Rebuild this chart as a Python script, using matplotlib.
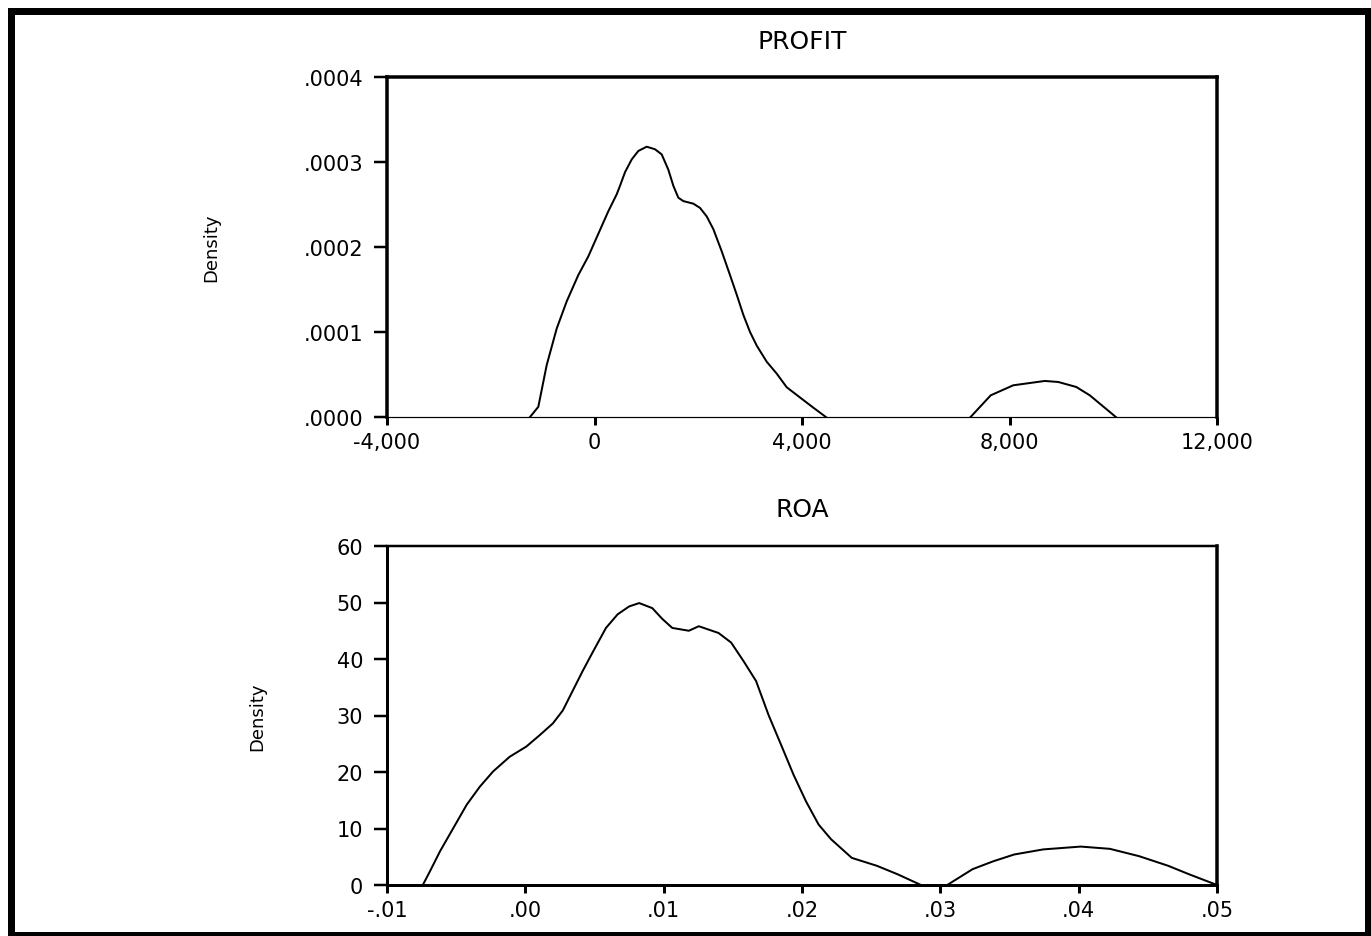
import numpy as np
import matplotlib.pyplot as plt
from matplotlib.patches import Rectangle
from matplotlib.ticker import FuncFormatter

# PROFIT kernel density, two pieces (density in units of 1e-4)
profit_x1 = [-1243, -1083, -922, -729, -536, -312, -119, 106, 266, 428, 492,
             588, 717, 845, 1006, 1166, 1295, 1423, 1520, 1616, 1713, 1905,
             2034, 2163, 2291, 2452, 2612, 2741, 2870, 2998, 3127, 3320,
             3513, 3705, 3961, 4218, 4460]
profit_y1 = [0.0, 0.12, 0.61, 1.04, 1.36, 1.67, 1.89, 2.20, 2.42, 2.62, 2.72,
             2.88, 3.03, 3.13, 3.18, 3.15, 3.09, 2.91, 2.72, 2.58, 2.54, 2.51,
             2.46, 2.36, 2.21, 1.95, 1.67, 1.44, 1.20, 1.00, 0.84, 0.65,
             0.51, 0.35, 0.23, 0.11, 0.0]
profit_x2 = [7250, 7638, 8072, 8680, 8940, 9288, 9548, 10050]
profit_y2 = [0.0, 0.255, 0.373, 0.424, 0.412, 0.353, 0.255, 0.0]

# ROA kernel density, two pieces
roa_x1 = [-0.00741, -0.00688, -0.00616, -0.0052, -0.00424, -0.00329, -0.00233,
          -0.00113, 0.00007, 0.00103, 0.00199, 0.00271, 0.00343, 0.00415,
          0.00487, 0.00583, 0.00667, 0.0075, 0.00823, 0.00918, 0.0099,
          0.01062, 0.01182, 0.01254, 0.01397, 0.01488, 0.01578, 0.01668,
          0.01758, 0.01849, 0.01939, 0.02029, 0.0212, 0.0221, 0.0236,
          0.02541, 0.02691, 0.0286]
roa_y1 = [0.0, 2.5, 6.0, 10.1, 14.2, 17.4, 20.1, 22.7, 24.5, 26.5, 28.6, 30.9,
          34.4, 37.9, 41.2, 45.5, 47.9, 49.3, 49.9, 49.0, 47.1, 45.5, 45.0,
          45.8, 44.6, 42.9, 39.6, 36.1, 30.1, 24.8, 19.5, 14.8, 10.7, 8.1,
          4.8, 3.4, 1.9, 0.0]
roa_x2 = [0.0305, 0.03233, 0.03383, 0.03534, 0.03744, 0.04015, 0.04226,
          0.04437, 0.04647, 0.04798, 0.05]
roa_y2 = [0.0, 2.8, 4.2, 5.4, 6.3, 6.8, 6.4, 5.1, 3.4, 1.9, 0.0]

profit_xticks = [-4000, 0, 4000, 8000, 12000]
profit_yticks = [0.0, 0.0001, 0.0002, 0.0003, 0.0004]
roa_xticks = [-0.01, 0.0, 0.01, 0.02, 0.03, 0.04, 0.05]
roa_yticks = [0, 10, 20, 30, 40, 50, 60]

plt.rcParams['font.family'] = ['DejaVu Sans']

W, H = 1371, 937
fig = plt.figure(figsize=(W / 100, H / 100), dpi=100)
px = 0.72  # one pixel in points


def dot_fmt(decimals):
    # EViews style: drop the leading zero, ".0004", "-.01"
    def f(v, pos):
        s = f"{v:.{decimals}f}"
        return s.replace("0.", ".", 1)
    return FuncFormatter(f)


def style_axes(ax, spine_w):
    for side, w in spine_w.items():
        ax.spines[side].set_linewidth(w * px)
    ax.tick_params(axis='y', direction='out', length=13 * px, width=2.5 * px,
                   pad=11 * px, labelsize=15)
    ax.tick_params(axis='x', direction='out', length=8 * px, width=3 * px,
                   pad=7 * px, labelsize=15)


ax1 = fig.add_axes([387 / W, (H - 418) / H, 830 / W, 340 / H])
ax1.plot(np.array(profit_x1), np.array(profit_y1) * 1e-4, color='black', lw=2 * px)
ax1.plot(np.array(profit_x2), np.array(profit_y2) * 1e-4, color='black', lw=2 * px)
ax1.set_xlim(-4000, 12000)
ax1.set_ylim(0, 0.0004)
ax1.set_xticks(profit_xticks)
ax1.set_yticks(profit_yticks)
ax1.xaxis.set_major_formatter(FuncFormatter(lambda v, p: f"{v:,.0f}"))
ax1.yaxis.set_major_formatter(dot_fmt(4))
style_axes(ax1, {'left': 3.5, 'top': 3.5, 'right': 3.5, 'bottom': 1.2})
ax1.set_title('PROFIT', fontsize=18, pad=29 * px)
ax1.set_ylabel('Density', fontsize=13)
ax1.yaxis.set_label_coords(-0.201, 0.5)

ax2 = fig.add_axes([387 / W, (H - 886) / H, 830 / W, 339 / H])
ax2.plot(roa_x1, roa_y1, color='black', lw=2 * px)
ax2.plot(roa_x2, roa_y2, color='black', lw=2 * px)
ax2.set_xlim(-0.01, 0.05)
ax2.set_ylim(0, 60)
ax2.set_xticks(roa_xticks)
ax2.set_yticks(roa_yticks)
ax2.xaxis.set_major_formatter(dot_fmt(2))
style_axes(ax2, {'left': 3.0, 'top': 2.5, 'right': 3.5, 'bottom': 3.0})
ax2.set_title('ROA', fontsize=18, pad=30 * px)
ax2.set_ylabel('Density', fontsize=13)
ax2.yaxis.set_label_coords(-0.145, 0.5)

# black frame round the whole picture
fig.patches.append(Rectangle((11 / W, 1 / H), (1367.5 - 11) / W, (936 - 11.5) / H,
                             transform=fig.transFigure, fill=False,
                             edgecolor='black', lw=7 * px, clip_on=False))

fig.savefig('out.png', dpi=100)
